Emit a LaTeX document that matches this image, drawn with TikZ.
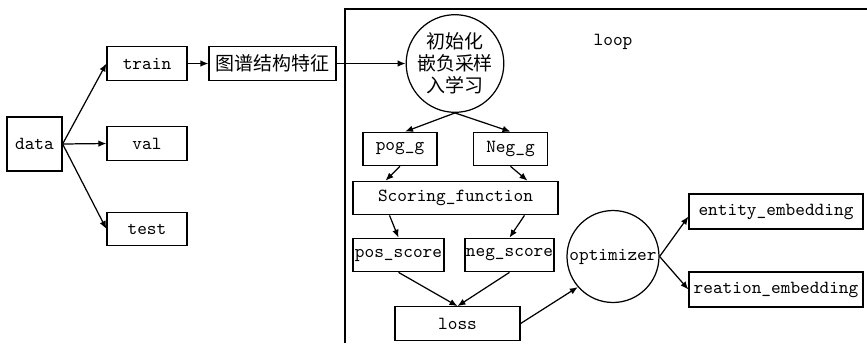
\documentclass[tikz,border=0pt]{standalone}
\usepackage{fontspec}
\newfontfamily\cjk{Noto Sans CJK SC}
\usetikzlibrary{arrows.meta,calc,positioning}

\begin{document}
\begin{tikzpicture}[x=0.02cm, y=-0.02cm, line width=0.7pt,
    >={Latex[length=1.6mm,width=1.3mm]},
    box/.style={rectangle, draw, inner sep=0pt, minimum height=0.67cm, align=center,
        font=\ttfamily\fontsize{10.5}{12}\selectfont},
    ring/.style={circle, draw, inner sep=0pt, align=center,
        font=\ttfamily\fontsize{10.5}{12}\selectfont}]
    \useasboundingbox (0,0) rectangle (867,343);

    % loop frame
    \draw (345,343) -- (345,9) -- (867,9);
    \node[font=\ttfamily\fontsize{10.5}{12}\selectfont] (looplabel) at (613,42) {loop};

    \node[box, minimum width=1.1cm, minimum height=1.08cm] (data) at (34.5,144) {data};
    \node[box, minimum width=1.6cm] (train) at (147,63.5) {train};
    \node[box, minimum width=1.6cm] (val) at (147,143.5) {val};
    \node[box, minimum width=1.6cm] (test) at (147,229) {test};
    \node[box, minimum width=2.54cm, font=\cjk\fontsize{10.8}{12}\selectfont] (feat) at (272.5,63.5) {图谱结构特征};

    \node[ring, minimum size=1.88cm, font=\cjk\fontsize{10.8}{12.6}\selectfont] (init) at (455,63.5) {初始化\\嵌负采样\\入学习};
    \node[box, minimum width=1.48cm] (posg) at (400,149) {pog\_g};
    \node[box, minimum width=1.48cm] (negg) at (510.5,149) {Neg\_g};
    \node[box, minimum width=4.1cm] (score) at (455.5,198) {Scoring\_function};
    \node[box, minimum width=1.82cm] (posscore) at (398.5,255) {pos\_score};
    \node[box, minimum width=1.78cm] (negscore) at (509.5,255) {neg\_score};
    \node[box, minimum width=2.5cm] (loss) at (457.5,323.5) {loss};
    \node[ring, minimum size=1.84cm] (optim) at (613,256.5) {optimizer};
    \node[box, minimum width=3.48cm, minimum height=0.7cm] (entity) at (776,211.5) {entity\_embedding};
    \node[box, minimum width=3.48cm, minimum height=0.7cm] (relation) at (776,289.5) {reation\_embedding};

    \draw[->] (data.east) -- (train.west);
    \draw[->] (data.east) -- (val.west);
    \draw[->] (data.east) -- (test.west);
    \draw[->] (train) -- (feat);
    \draw[->] (feat) -- (init);

    \draw[->] (init.south) -- ([xshift=0.1cm]posg.north);
    \draw[->] (init.south) -- (negg.north);
    \draw[->] (posg.south) -- ([xshift=-1.4cm]score.north);
    \draw[->] (negg.south) -- ([xshift=1.44cm]score.north);
    \draw[->] ([xshift=-1.32cm]score.south) -- (posscore.north);
    \draw[->] ([xshift=1.38cm]score.south) -- (negscore.north);
    \draw[->] (posscore.south) -- (loss.north);
    \draw[->] (negscore.south) -- (loss.north);
    \draw[->] (loss.east) -- (optim.221);
    \draw[->] (optim.east) -- ([yshift=-0.1cm]entity.west);
    \draw[->] (optim.east) -- (relation.west);
\end{tikzpicture}
\end{document}
